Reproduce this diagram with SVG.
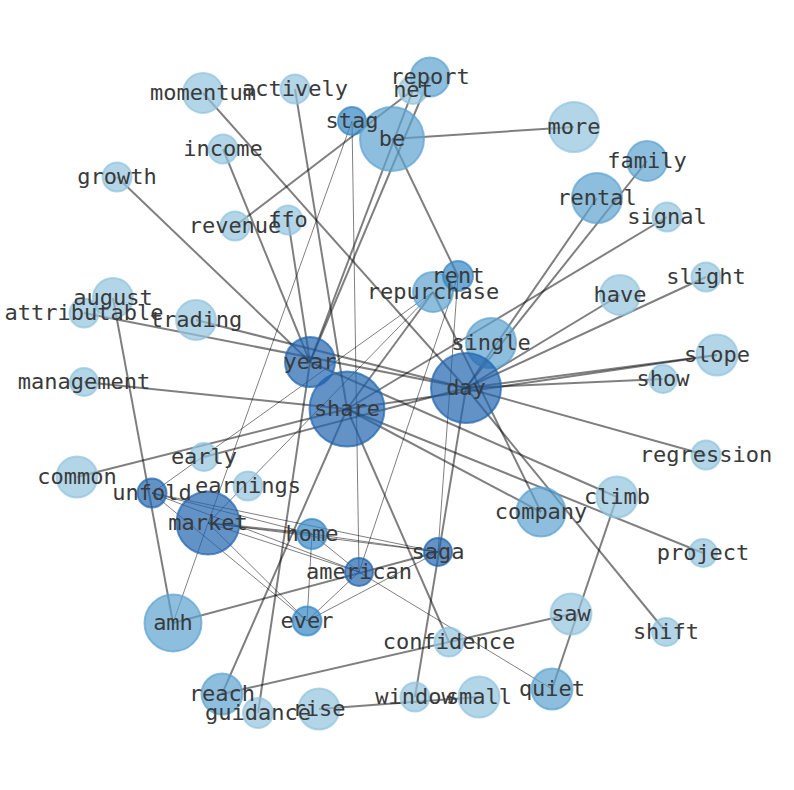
<svg xmlns="http://www.w3.org/2000/svg" width="794" height="790" viewBox="0 0 794 790">
<defs>
<style>
.e{stroke:#000;stroke-opacity:0.5;stroke-width:2;fill:none}
.n{stroke:#000;stroke-opacity:0.5;stroke-width:1;fill:none}
circle{stroke-width:2;fill-opacity:0.7;stroke-opacity:0.7}
.c1{fill:#92c3de;stroke:#92c3de}
.c2{fill:#5ca2d0;stroke:#5ca2d0}
.c3{fill:#3386c4;stroke:#3386c4}
.c4{fill:#1f64ae;stroke:#1f64ae}
text{font-family:"DejaVu Sans Mono","Liberation Mono",monospace;font-size:22px;fill:#3a3a3a;text-anchor:middle}
</style>
</defs>
<rect width="794" height="790" fill="#fff"/>
<g id="edges">
<line class="e" x1="203" y1="93" x2="466" y2="388"/>
<line class="e" x1="295" y1="89" x2="347" y2="409"/>
<line class="e" x1="223" y1="149" x2="310" y2="362"/>
<line class="e" x1="117" y1="177" x2="310" y2="362"/>
<line class="e" x1="235" y1="226" x2="413" y2="90"/>
<line class="e" x1="288" y1="220" x2="310" y2="362"/>
<line class="n" x1="352" y1="121" x2="359" y2="572"/>
<line class="n" x1="352" y1="121" x2="208" y2="523"/>
<line class="e" x1="413" y1="90" x2="310" y2="362"/>
<line class="e" x1="430" y1="77" x2="310" y2="362"/>
<line class="e" x1="392" y1="139" x2="574" y2="127"/>
<line class="e" x1="392" y1="139" x2="458" y2="276"/>
<line class="e" x1="84" y1="313" x2="466" y2="388"/>
<line class="e" x1="196" y1="320" x2="466" y2="388"/>
<line class="e" x1="113" y1="298" x2="173" y2="623"/>
<line class="e" x1="84" y1="382" x2="347" y2="409"/>
<line class="e" x1="77" y1="477" x2="347" y2="409"/>
<line class="e" x1="204" y1="457" x2="466" y2="388"/>
<line class="e" x1="597" y1="198" x2="466" y2="388"/>
<line class="e" x1="647" y1="161" x2="466" y2="388"/>
<line class="e" x1="667" y1="217" x2="347" y2="409"/>
<line class="e" x1="620" y1="295" x2="466" y2="388"/>
<line class="e" x1="706" y1="277" x2="466" y2="388"/>
<line class="e" x1="717" y1="355" x2="466" y2="388"/>
<line class="e" x1="717" y1="355" x2="347" y2="409"/>
<line class="e" x1="663" y1="379" x2="466" y2="388"/>
<line class="e" x1="706" y1="455" x2="466" y2="388"/>
<line class="e" x1="703" y1="553" x2="347" y2="409"/>
<line class="e" x1="617" y1="497" x2="310" y2="362"/>
<line class="e" x1="541" y1="512" x2="347" y2="409"/>
<line class="e" x1="433" y1="292" x2="541" y2="512"/>
<line class="e" x1="433" y1="292" x2="347" y2="409"/>
<line class="n" x1="433" y1="292" x2="152" y2="493"/>
<line class="n" x1="433" y1="292" x2="208" y2="523"/>
<line class="n" x1="458" y1="276" x2="438" y2="552"/>
<line class="n" x1="458" y1="276" x2="359" y2="572"/>
<line class="e" x1="466" y1="388" x2="415" y2="697"/>
<line class="e" x1="319" y1="709" x2="479" y2="697"/>
<line class="e" x1="666" y1="632" x2="466" y2="388"/>
<line class="e" x1="552" y1="689" x2="617" y2="497"/>
<line class="e" x1="222" y1="694" x2="571" y2="614"/>
<line class="e" x1="347" y1="409" x2="449" y2="642"/>
<line class="e" x1="347" y1="409" x2="222" y2="694"/>
<line class="e" x1="258" y1="713" x2="310" y2="362"/>
<line class="n" x1="359" y1="572" x2="552" y2="689"/>
<line class="e" x1="173" y1="623" x2="438" y2="552"/>
<line class="n" x1="173" y1="623" x2="208" y2="523"/>
<line class="n" x1="152" y1="493" x2="312" y2="534"/>
<line class="n" x1="152" y1="493" x2="438" y2="552"/>
<line class="n" x1="152" y1="493" x2="359" y2="572"/>
<line class="n" x1="152" y1="493" x2="307" y2="621"/>
<line class="e" x1="208" y1="523" x2="312" y2="534"/>
<line class="n" x1="208" y1="523" x2="438" y2="552"/>
<line class="n" x1="208" y1="523" x2="359" y2="572"/>
<line class="n" x1="208" y1="523" x2="307" y2="621"/>
<line class="n" x1="312" y1="534" x2="359" y2="572"/>
<line class="n" x1="312" y1="534" x2="307" y2="621"/>
<line class="n" x1="312" y1="534" x2="438" y2="552"/>
<line class="n" x1="359" y1="572" x2="307" y2="621"/>
<line class="n" x1="438" y1="552" x2="307" y2="621"/>
</g>
<g id="node-momentum"><circle class="c1" cx="203" cy="93" r="20"/></g>
<g id="node-actively"><circle class="c1" cx="295" cy="89" r="14.5"/></g>
<g id="node-report"><circle class="c2" cx="430" cy="77" r="19.5"/></g>
<g id="node-net"><circle class="c1" cx="413" cy="90" r="14"/></g>
<g id="node-stag"><circle class="c3" cx="352" cy="121" r="14"/></g>
<g id="node-be"><circle class="c2" cx="392" cy="139" r="32"/></g>
<g id="node-more"><circle class="c1" cx="574" cy="127" r="25"/></g>
<g id="node-income"><circle class="c1" cx="223" cy="149" r="14.5"/></g>
<g id="node-growth"><circle class="c1" cx="117" cy="177" r="14.5"/></g>
<g id="node-family"><circle class="c2" cx="647" cy="161" r="20"/></g>
<g id="node-rental"><circle class="c2" cx="597" cy="198" r="25"/></g>
<g id="node-signal"><circle class="c1" cx="667" cy="217" r="14.5"/></g>
<g id="node-revenue"><circle class="c1" cx="235" cy="226" r="14.5"/></g>
<g id="node-ffo"><circle class="c1" cx="288" cy="220" r="14.5"/></g>
<g id="node-slight"><circle class="c1" cx="706" cy="277" r="14.5"/></g>
<g id="node-have"><circle class="c1" cx="620" cy="295" r="20"/></g>
<g id="node-repurchase"><circle class="c2" cx="433" cy="292" r="20"/></g>
<g id="node-rent"><circle class="c3" cx="458" cy="276" r="15"/></g>
<g id="node-august"><circle class="c1" cx="113" cy="298" r="20"/></g>
<g id="node-attributable"><circle class="c1" cx="84" cy="313" r="14.5"/></g>
<g id="node-trading"><circle class="c1" cx="196" cy="320" r="20"/></g>
<g id="node-single"><circle class="c2" cx="491" cy="343" r="25"/></g>
<g id="node-slope"><circle class="c1" cx="717" cy="355" r="20.5"/></g>
<g id="node-year"><circle class="c4" cx="310" cy="362" r="25"/></g>
<g id="node-day"><circle class="c4" cx="466" cy="388" r="35"/></g>
<g id="node-show"><circle class="c1" cx="663" cy="379" r="14"/></g>
<g id="node-management"><circle class="c1" cx="84" cy="382" r="14"/></g>
<g id="node-share"><circle class="c4" cx="347" cy="409" r="37.5"/></g>
<g id="node-early"><circle class="c1" cx="204" cy="457" r="14"/></g>
<g id="node-regression"><circle class="c1" cx="706" cy="455" r="14.5"/></g>
<g id="node-common"><circle class="c1" cx="77" cy="477" r="20.5"/></g>
<g id="node-unfold"><circle class="c4" cx="152" cy="493" r="14.5"/></g>
<g id="node-earnings"><circle class="c1" cx="248" cy="486" r="14.5"/></g>
<g id="node-climb"><circle class="c1" cx="617" cy="497" r="20.5"/></g>
<g id="node-company"><circle class="c2" cx="541" cy="512" r="24.5"/></g>
<g id="node-market"><circle class="c4" cx="208" cy="523" r="31.5"/></g>
<g id="node-home"><circle class="c3" cx="312" cy="534" r="15"/></g>
<g id="node-saga"><circle class="c4" cx="438" cy="552" r="14"/></g>
<g id="node-project"><circle class="c1" cx="703" cy="553" r="14"/></g>
<g id="node-american"><circle class="c4" cx="359" cy="572" r="14"/></g>
<g id="node-amh"><circle class="c2" cx="173" cy="623" r="28.5"/></g>
<g id="node-ever"><circle class="c3" cx="307" cy="621" r="14.5"/></g>
<g id="node-saw"><circle class="c1" cx="571" cy="614" r="20.5"/></g>
<g id="node-shift"><circle class="c1" cx="666" cy="632" r="14"/></g>
<g id="node-confidence"><circle class="c1" cx="449" cy="642" r="14.5"/></g>
<g id="node-quiet"><circle class="c2" cx="552" cy="689" r="20.5"/></g>
<g id="node-reach"><circle class="c2" cx="222" cy="694" r="20.5"/></g>
<g id="node-guidance"><circle class="c1" cx="258" cy="713" r="15"/></g>
<g id="node-rise"><circle class="c1" cx="319" cy="709" r="20.5"/></g>
<g id="node-window"><circle class="c1" cx="415" cy="697" r="14.5"/></g>
<g id="node-small"><circle class="c1" cx="479" cy="697" r="20.5"/></g>
<g id="labels">
<text x="203" y="100">momentum</text>
<text x="295" y="96">actively</text>
<text x="430" y="84">report</text>
<text x="413" y="97">net</text>
<text x="352" y="128">stag</text>
<text x="392" y="146">be</text>
<text x="574" y="134">more</text>
<text x="223" y="156">income</text>
<text x="117" y="184">growth</text>
<text x="647" y="168">family</text>
<text x="597" y="205">rental</text>
<text x="667" y="224">signal</text>
<text x="235" y="233">revenue</text>
<text x="288" y="227">ffo</text>
<text x="706" y="284">slight</text>
<text x="620" y="302">have</text>
<text x="458" y="283">rent</text>
<text x="433" y="299">repurchase</text>
<text x="113" y="305">august</text>
<text x="84" y="320">attributable</text>
<text x="196" y="327">trading</text>
<text x="491" y="350">single</text>
<text x="717" y="362">slope</text>
<text x="310" y="369">year</text>
<text x="466" y="395">day</text>
<text x="663" y="386">show</text>
<text x="84" y="389">management</text>
<text x="347" y="416">share</text>
<text x="204" y="464">early</text>
<text x="706" y="462">regression</text>
<text x="77" y="484">common</text>
<text x="152" y="500">unfold</text>
<text x="248" y="493">earnings</text>
<text x="617" y="504">climb</text>
<text x="541" y="519">company</text>
<text x="208" y="530">market</text>
<text x="312" y="541">home</text>
<text x="438" y="559">saga</text>
<text x="703" y="560">project</text>
<text x="359" y="579">american</text>
<text x="173" y="630">amh</text>
<text x="307" y="628">ever</text>
<text x="571" y="621">saw</text>
<text x="666" y="639">shift</text>
<text x="449" y="649">confidence</text>
<text x="552" y="696">quiet</text>
<text x="222" y="701">reach</text>
<text x="258" y="720">guidance</text>
<text x="319" y="716">rise</text>
<text x="415" y="704">window</text>
<text x="479" y="704">small</text>
</g>
</svg>
